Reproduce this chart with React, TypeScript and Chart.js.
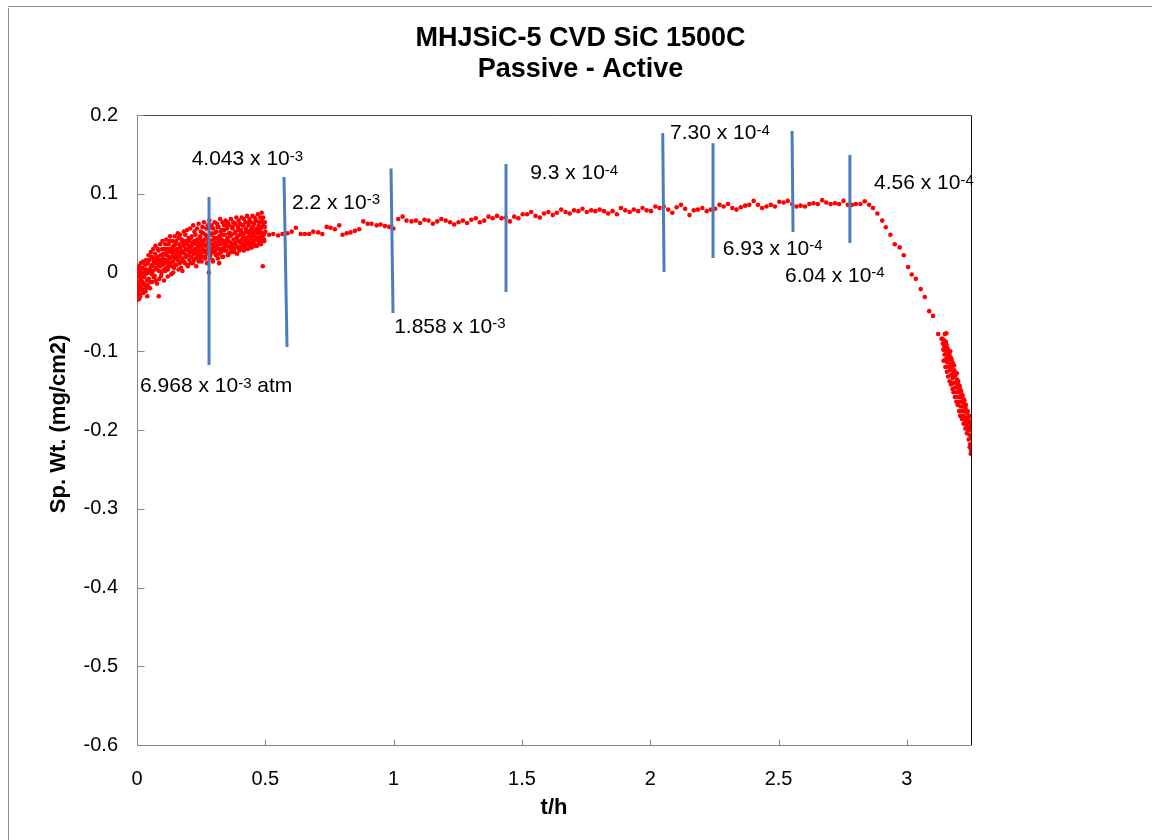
import React, { useEffect, useRef } from "react";
import { Chart, registerables } from "chart.js";

Chart.register(...registerables);

const TITLE_LINES = ["MHJSiC-5 CVD SiC 1500C", "Passive - Active"];
const X_TITLE = "t/h";
const Y_TITLE = "  Sp. Wt. (mg/cm2)";
const X_MIN = 0;
const X_MAX = 3.25;
const X_STEP = 0.5;
const Y_MIN = -0.6;
const Y_MAX = 0.2;
const Y_STEP = 0.1;

// Early, densely sampled passive region (t/h, mg/cm2)
const cloudPoints: [number, number][] = [
  [0.000, -0.012], [0.002, -0.028], [0.004, 0.004], [0.005, -0.020], [0.007, -0.005], [0.009, -0.033],
  [0.010, -0.015], [0.012, 0.002], [0.014, -0.022], [0.016, -0.008], [0.018, -0.018], [0.020, 0.006],
  [0.022, -0.012], [0.024, -0.026], [0.026, 0.000], [0.028, -0.006], [0.030, -0.016], [0.032, 0.010],
  [0.034, -0.002], [0.036, -0.020], [0.038, 0.004], [0.040, -0.010], [0.042, 0.012], [0.044, 0.000],
  [0.046, -0.008], [0.048, 0.016], [0.050, 0.004], [0.052, -0.012], [0.054, 0.008], [0.056, 0.020],
  [0.058, -0.002], [0.060, 0.010], [0.062, 0.002], [0.064, 0.018], [0.066, -0.006], [0.068, 0.012],
  [0.070, 0.024], [0.072, 0.006], [0.074, -0.010], [0.076, 0.014], [0.078, 0.004], [0.080, 0.020],
  [0.082, 0.010], [0.084, 0.028], [0.086, 0.002], [0.088, 0.016], [0.090, 0.008], [0.092, 0.022],
  [0.094, -0.004], [0.096, 0.014], [0.098, 0.030], [0.100, 0.010], [0.102, 0.018], [0.104, 0.004],
  [0.106, 0.024], [0.108, 0.012], [0.110, 0.036], [0.112, 0.016], [0.114, 0.006], [0.116, 0.022],
  [0.118, 0.014], [0.120, 0.030], [0.122, 0.008], [0.124, 0.020], [0.126, 0.040], [0.128, 0.018],
  [0.130, 0.012], [0.132, 0.026], [0.134, -0.002], [0.136, 0.020], [0.138, 0.032], [0.140, 0.014],
  [0.142, 0.024], [0.144, 0.006], [0.146, 0.028], [0.148, 0.018], [0.150, 0.036], [0.152, 0.022],
  [0.154, 0.010], [0.156, 0.030], [0.158, 0.016], [0.160, 0.026], [0.162, 0.044], [0.164, 0.020],
  [0.166, 0.012], [0.168, 0.032], [0.170, 0.024], [0.172, 0.006], [0.174, 0.028], [0.176, 0.040],
  [0.178, 0.018], [0.180, 0.026], [0.182, 0.034], [0.184, 0.014], [0.186, 0.024], [0.188, 0.048],
  [0.190, 0.030], [0.192, 0.020], [0.194, 0.036], [0.196, 0.010], [0.198, 0.028], [0.200, 0.022],
  [0.202, 0.040], [0.204, 0.016], [0.206, 0.032], [0.208, 0.026], [0.210, 0.044], [0.212, 0.020],
  [0.214, 0.034], [0.216, 0.028], [0.218, 0.012], [0.220, 0.038], [0.222, 0.024], [0.224, 0.052],
  [0.226, 0.030], [0.228, 0.018], [0.230, 0.036], [0.232, 0.026], [0.234, 0.042], [0.236, 0.022],
  [0.238, 0.032], [0.240, 0.014], [0.242, 0.038], [0.244, 0.028], [0.246, 0.046], [0.248, 0.024],
  [0.250, 0.034], [0.252, 0.040], [0.254, 0.020], [0.256, 0.030], [0.258, 0.050], [0.260, 0.036],
  [0.262, 0.026], [0.264, 0.042], [0.266, 0.018], [0.268, 0.034], [0.270, 0.028], [0.272, 0.046],
  [0.274, 0.024], [0.276, 0.038], [0.278, 0.030], [0.280, 0.056], [0.282, 0.034], [0.284, 0.020],
  [0.286, 0.040], [0.288, 0.030], [0.290, 0.048], [0.292, 0.026], [0.294, 0.036], [0.296, 0.014],
  [0.298, 0.042], [0.300, 0.032], [0.302, 0.050], [0.304, 0.028], [0.306, 0.038], [0.308, 0.022],
  [0.310, 0.044], [0.312, 0.034], [0.314, 0.058], [0.316, 0.030], [0.318, 0.040], [0.320, 0.024],
  [0.322, 0.046], [0.324, 0.036], [0.326, 0.052], [0.328, 0.030], [0.330, 0.042], [0.332, 0.020],
  [0.334, 0.038], [0.336, 0.048], [0.338, 0.032], [0.340, 0.054], [0.342, 0.028], [0.344, 0.040],
  [0.346, 0.036], [0.348, 0.060], [0.350, 0.034], [0.352, 0.044], [0.354, 0.022], [0.356, 0.040],
  [0.358, 0.050], [0.360, 0.032], [0.362, 0.046], [0.364, 0.038], [0.366, 0.026], [0.368, 0.048],
  [0.370, 0.036], [0.372, 0.056], [0.374, 0.032], [0.376, 0.042], [0.378, 0.028], [0.380, 0.050],
  [0.382, 0.038], [0.384, 0.062], [0.386, 0.034], [0.388, 0.044], [0.390, 0.024], [0.392, 0.046],
  [0.394, 0.040], [0.396, 0.054], [0.398, 0.032], [0.400, 0.048], [0.402, 0.038], [0.404, 0.030],
  [0.406, 0.052], [0.408, 0.042], [0.410, 0.060], [0.412, 0.036], [0.414, 0.046], [0.416, 0.028],
  [0.418, 0.050], [0.420, 0.040], [0.422, 0.034], [0.424, 0.056], [0.426, 0.044], [0.428, 0.038],
  [0.430, 0.052], [0.432, 0.030], [0.434, 0.046], [0.436, 0.064], [0.438, 0.040], [0.440, 0.050],
  [0.442, 0.036], [0.444, 0.054], [0.446, 0.044], [0.448, 0.032], [0.450, 0.048], [0.452, 0.058],
  [0.454, 0.040], [0.456, 0.052], [0.458, 0.036], [0.460, 0.046], [0.462, 0.066], [0.464, 0.042],
  [0.466, 0.054], [0.468, 0.034], [0.470, 0.050], [0.472, 0.044], [0.474, 0.060], [0.476, 0.038],
  [0.478, 0.052], [0.480, 0.046], [0.482, 0.056], [0.484, 0.040], [0.486, 0.076], [0.488, 0.050],
  [0.490, 0.044], [0.492, 0.062], [0.494, 0.048], [0.496, 0.040], [0.498, 0.058], [0.500, 0.052],
  [0.280, 0.000], [0.490, 0.008], [0.085, -0.030], [0.040, -0.030], [0.006, -0.034], [0.120, -0.005],
  [0.320, 0.012], [0.003, -0.024], [0.001, 0.002], [0.008, -0.010], [0.011, -0.028], [0.015, 0.000],
];

// Second pass over the same interval: the wider scatter of the raw signal
const cloudSpread: [number, number][] = [
  [0.003, -0.018], [0.006, 0.008], [0.009, -0.002], [0.012, -0.030], [0.015, 0.012], [0.018, -0.004],
  [0.021, -0.022], [0.024, 0.014], [0.027, -0.014], [0.030, 0.004], [0.033, -0.024], [0.036, 0.016],
  [0.039, 0.000], [0.042, -0.016], [0.045, 0.022], [0.048, 0.002], [0.051, -0.020], [0.054, 0.026],
  [0.057, 0.008], [0.060, -0.012], [0.063, 0.030], [0.066, 0.014], [0.069, -0.004], [0.072, 0.034],
  [0.075, 0.018], [0.078, -0.014], [0.081, 0.030], [0.084, 0.012], [0.087, -0.008], [0.090, 0.036],
  [0.093, 0.016], [0.096, 0.000], [0.099, 0.040], [0.102, 0.024], [0.105, -0.010], [0.108, 0.030],
  [0.111, 0.002], [0.114, 0.042], [0.117, 0.026], [0.120, 0.004], [0.123, 0.036], [0.126, 0.010],
  [0.129, 0.046], [0.132, 0.030], [0.135, 0.008], [0.138, 0.040], [0.141, 0.000], [0.144, 0.034],
  [0.147, 0.046], [0.150, 0.010], [0.153, 0.040], [0.156, 0.020], [0.159, 0.050], [0.162, 0.004],
  [0.165, 0.036], [0.168, 0.048], [0.171, 0.014], [0.174, 0.042], [0.177, 0.002], [0.180, 0.038],
  [0.183, 0.052], [0.186, 0.012], [0.189, 0.040], [0.192, 0.030], [0.195, 0.054], [0.198, 0.008],
  [0.201, 0.044], [0.204, 0.034], [0.207, 0.056], [0.210, 0.012], [0.213, 0.046], [0.216, 0.038],
  [0.219, 0.060], [0.222, 0.016], [0.225, 0.040], [0.228, 0.048], [0.231, 0.008], [0.234, 0.056],
  [0.237, 0.036], [0.240, 0.062], [0.243, 0.018], [0.246, 0.044], [0.249, 0.052], [0.252, 0.014],
  [0.255, 0.058], [0.258, 0.040], [0.261, 0.064], [0.264, 0.020], [0.267, 0.048], [0.270, 0.056],
  [0.273, 0.012], [0.276, 0.060], [0.279, 0.042], [0.282, 0.066], [0.285, 0.022], [0.288, 0.050],
  [0.291, 0.060], [0.294, 0.016], [0.297, 0.056], [0.300, 0.044], [0.303, 0.064], [0.306, 0.024],
  [0.309, 0.052], [0.312, 0.062], [0.315, 0.018], [0.318, 0.058], [0.321, 0.046], [0.324, 0.068],
  [0.327, 0.026], [0.330, 0.054], [0.333, 0.064], [0.336, 0.020], [0.339, 0.060], [0.342, 0.048],
  [0.345, 0.066], [0.348, 0.028], [0.351, 0.056], [0.354, 0.064], [0.357, 0.024], [0.360, 0.060],
  [0.363, 0.050], [0.366, 0.068], [0.369, 0.030], [0.372, 0.058], [0.375, 0.064], [0.378, 0.026],
  [0.381, 0.062], [0.384, 0.052], [0.387, 0.070], [0.390, 0.032], [0.393, 0.058], [0.396, 0.066],
  [0.399, 0.028], [0.402, 0.062], [0.405, 0.054], [0.408, 0.070], [0.411, 0.034], [0.414, 0.060],
  [0.417, 0.068], [0.420, 0.030], [0.423, 0.064], [0.426, 0.054], [0.429, 0.072], [0.432, 0.036],
  [0.435, 0.060], [0.438, 0.068], [0.441, 0.032], [0.444, 0.064], [0.447, 0.056], [0.450, 0.072],
  [0.453, 0.038], [0.456, 0.062], [0.459, 0.070], [0.462, 0.034], [0.465, 0.066], [0.468, 0.056],
  [0.471, 0.074], [0.474, 0.040], [0.477, 0.064], [0.480, 0.070], [0.483, 0.036], [0.486, 0.066],
  [0.489, 0.058], [0.492, 0.070], [0.495, 0.042], [0.498, 0.064],
];

// Sparser plateau region
const plateauPoints: [number, number][] = [
  [0.515, 0.048], [0.531, 0.049], [0.550, 0.047], [0.567, 0.049], [0.586, 0.050], [0.603, 0.052],
  [0.619, 0.057], [0.638, 0.049], [0.654, 0.049], [0.671, 0.049], [0.687, 0.052], [0.706, 0.051],
  [0.722, 0.049], [0.739, 0.058], [0.754, 0.057], [0.771, 0.055], [0.788, 0.060], [0.801, 0.048],
  [0.817, 0.050], [0.832, 0.051], [0.849, 0.053], [0.866, 0.055], [0.882, 0.065], [0.899, 0.062],
  [0.914, 0.062], [0.934, 0.060], [0.949, 0.061], [0.966, 0.059], [0.983, 0.058], [0.999, 0.056],
  [1.018, 0.068], [1.035, 0.071], [1.050, 0.066], [1.070, 0.065], [1.087, 0.066], [1.103, 0.063],
  [1.120, 0.067], [1.136, 0.066], [1.153, 0.062], [1.170, 0.065], [1.186, 0.068], [1.203, 0.066],
  [1.220, 0.064], [1.236, 0.061], [1.253, 0.064], [1.270, 0.066], [1.286, 0.063], [1.303, 0.067],
  [1.320, 0.069], [1.336, 0.064], [1.353, 0.066], [1.370, 0.071], [1.386, 0.069], [1.403, 0.072],
  [1.420, 0.069], [1.436, 0.070], [1.453, 0.065], [1.470, 0.071], [1.486, 0.069], [1.503, 0.074],
  [1.520, 0.074], [1.536, 0.077], [1.553, 0.072], [1.570, 0.070], [1.586, 0.075], [1.603, 0.077],
  [1.620, 0.073], [1.636, 0.076], [1.653, 0.080], [1.670, 0.077], [1.686, 0.075], [1.703, 0.079],
  [1.720, 0.078], [1.736, 0.081], [1.753, 0.077], [1.770, 0.079], [1.786, 0.078], [1.803, 0.080],
  [1.820, 0.078], [1.836, 0.075], [1.853, 0.078], [1.870, 0.074], [1.886, 0.082], [1.903, 0.079],
  [1.920, 0.077], [1.936, 0.080], [1.953, 0.078], [1.970, 0.082], [1.986, 0.079], [2.003, 0.078],
  [2.020, 0.084], [2.036, 0.082], [2.053, 0.084], [2.070, 0.080], [2.086, 0.076], [2.103, 0.083],
  [2.120, 0.086], [2.136, 0.081], [2.153, 0.073], [2.170, 0.079], [2.186, 0.080], [2.203, 0.082],
  [2.220, 0.078], [2.236, 0.080], [2.253, 0.081], [2.270, 0.086], [2.286, 0.084], [2.303, 0.087],
  [2.320, 0.082], [2.336, 0.080], [2.353, 0.083], [2.370, 0.085], [2.386, 0.086], [2.403, 0.091],
  [2.420, 0.086], [2.436, 0.082], [2.453, 0.084], [2.470, 0.086], [2.486, 0.084], [2.503, 0.090],
  [2.520, 0.089], [2.536, 0.091], [2.553, 0.087], [2.570, 0.084], [2.586, 0.085], [2.603, 0.084],
  [2.620, 0.087], [2.636, 0.088], [2.653, 0.087], [2.670, 0.092], [2.686, 0.089], [2.703, 0.087],
  [2.720, 0.088], [2.736, 0.087], [2.753, 0.091], [2.770, 0.086], [2.786, 0.086], [2.801, 0.087],
  [2.819, 0.087], [2.836, 0.0905], [2.853, 0.086],
];

// Active oxidation: weight loss
const declinePoints: [number, number][] = [
  [2.868, 0.082], [2.885, 0.075], [2.904, 0.066], [2.918, 0.0575], [2.936, 0.048], [2.953, 0.036],
  [2.972, 0.032], [2.988, 0.022], [3.005, 0.007], [3.019, -0.0025], [3.035, -0.008], [3.054, -0.021],
  [3.070, -0.031], [3.087, -0.049], [3.102, -0.055], [3.122, -0.078], [3.139, -0.084], [3.154, -0.077],
  [3.135, -0.084], [3.148, -0.078],
];

const tailPoints: [number, number][] = [
  [3.140, -0.090], [3.142, -0.098], [3.145, -0.086], [3.147, -0.104], [3.149, -0.094], [3.151, -0.110],
  [3.153, -0.100], [3.155, -0.092], [3.157, -0.114], [3.159, -0.106], [3.160, -0.098], [3.162, -0.120],
  [3.164, -0.110], [3.166, -0.104], [3.168, -0.124], [3.170, -0.116], [3.171, -0.108], [3.173, -0.130],
  [3.175, -0.120], [3.177, -0.114], [3.179, -0.134], [3.181, -0.126], [3.183, -0.140], [3.184, -0.118],
  [3.186, -0.132], [3.188, -0.146], [3.190, -0.128], [3.192, -0.140], [3.194, -0.152], [3.196, -0.136],
  [3.197, -0.146], [3.199, -0.158], [3.201, -0.142], [3.203, -0.152], [3.205, -0.164], [3.207, -0.148],
  [3.209, -0.158], [3.210, -0.170], [3.212, -0.154], [3.214, -0.164], [3.216, -0.176], [3.218, -0.160],
  [3.220, -0.170], [3.222, -0.182], [3.223, -0.166], [3.225, -0.176], [3.227, -0.188], [3.229, -0.172],
  [3.231, -0.184], [3.233, -0.194], [3.235, -0.178], [3.236, -0.190], [3.238, -0.200], [3.240, -0.186],
  [3.242, -0.196], [3.244, -0.206], [3.246, -0.190], [3.247, -0.218], [3.248, -0.200], [3.249, -0.230],
  [3.250, -0.210],
];

const tailSpread: [number, number][] = [
  [3.143, -0.112], [3.146, -0.094], [3.150, -0.120], [3.152, -0.088], [3.156, -0.126], [3.158, -0.096],
  [3.161, -0.132], [3.163, -0.102], [3.167, -0.138], [3.169, -0.100], [3.172, -0.142], [3.174, -0.110],
  [3.178, -0.148], [3.180, -0.116], [3.182, -0.152], [3.185, -0.124], [3.187, -0.158], [3.189, -0.130],
  [3.193, -0.164], [3.195, -0.128], [3.198, -0.168], [3.200, -0.138], [3.204, -0.176], [3.206, -0.144],
  [3.208, -0.182], [3.211, -0.150], [3.215, -0.186], [3.217, -0.156], [3.221, -0.192], [3.224, -0.162],
  [3.228, -0.198], [3.230, -0.168], [3.234, -0.204], [3.237, -0.176], [3.241, -0.212], [3.243, -0.182],
  [3.245, -0.222], [3.250, -0.194], [3.250, -0.226],
];

// Blue marker lines where the oxygen partial pressure changed: [t1, v1, t2, v2]
const markerLines: [number, number, number, number][] = [
  [0.2806, 0.0959, 0.2806, -0.1175],
  [0.5729, 0.1213, 0.5846, -0.0946],
  [0.9899, 0.1321, 0.9977, -0.0514],
  [1.438, 0.1378, 1.438, -0.0248],
  [2.0487, 0.1771, 2.0538, 0.0006],
  [2.2447, 0.1644, 2.2447, 0.0184],
  [2.5526, 0.1797, 2.5565, 0.0514],
  [2.778, 0.1492, 2.778, 0.0375],
];

// Pressure labels: mantissa text, exponent, suffix
const labelTexts: [string, string, string][] = [
  ["4.043 x 10", "-3", ""],
  ["2.2 x 10", "-3", ""],
  ["6.968 x 10", "-3", " atm"],
  ["1.858 x 10", "-3", ""],
  ["9.3 x 10", "-4", ""],
  ["7.30 x 10", "-4", ""],
  ["6.93 x 10", "-4", ""],
  ["6.04 x 10", "-4", ""],
  ["4.56 x 10", "-4", ""],
];
// Label anchors in data units (left edge, vertical middle)
const labelAnchors: [number, number][] = [
  [0.213, 0.146],
  [0.604, 0.0908],
  [0.012, -0.142],
  [1.002, -0.0667],
  [1.532, 0.128],
  [2.077, 0.179],
  [2.283, 0.0324],
  [2.525, -0.0019],
  [2.872, 0.1156],
];

const FONT = "'Liberation Sans', Arial, Helvetica, sans-serif";

const fmt = (v: number) => String(Number(v.toFixed(2)));

const decorPlugin = {
  id: "decor",
  beforeDatasetsDraw(chart: any) {
    const { ctx, chartArea: a, scales } = chart;
    ctx.save();
    const L = Math.round(a.left) + 0.5;
    const R = Math.round(a.right) + 0.5;
    const T = Math.round(a.top) + 0.5;
    const B = Math.round(a.bottom) + 0.5;
    ctx.lineWidth = 1;
    // plot box top and right
    ctx.strokeStyle = "#4a4a4a";
    ctx.beginPath();
    ctx.moveTo(L, T);
    ctx.lineTo(R, T);
    ctx.stroke();
    ctx.strokeStyle = "#111111";
    ctx.beginPath();
    ctx.moveTo(R, T);
    ctx.lineTo(R, B);
    ctx.stroke();
    // axes
    ctx.strokeStyle = "#868686";
    ctx.beginPath();
    ctx.moveTo(L, T);
    ctx.lineTo(L, B);
    ctx.lineTo(R, B);
    ctx.stroke();
    // inside tick marks
    ctx.beginPath();
    scales.y.ticks.forEach((t: any) => {
      const y = Math.round(scales.y.getPixelForValue(t.value)) + 0.5;
      ctx.moveTo(L, y);
      ctx.lineTo(L + 7, y);
    });
    scales.x.ticks.forEach((t: any) => {
      const x = Math.round(scales.x.getPixelForValue(t.value)) + 0.5;
      ctx.moveTo(x, B);
      ctx.lineTo(x, B - 6);
    });
    ctx.stroke();
    ctx.restore();
  },
  afterDatasetsDraw(chart: any) {
    const { ctx, scales } = chart;
    ctx.save();
    ctx.fillStyle = "#000000";
    ctx.textBaseline = "alphabetic";
    ctx.textAlign = "left";
    const mainSize = 21;
    const supSize = 15;
    labelTexts.forEach(([m, e, s], i) => {
      const [tx, ty] = labelAnchors[i];
      const x = scales.x.getPixelForValue(tx);
      const yc = scales.y.getPixelForValue(ty);
      const capMain = 0.716 * mainSize;
      const base = yc + capMain / 2;
      ctx.font = `${mainSize}px ${FONT}`;
      ctx.fillText(m, x, base);
      let cx = x + ctx.measureText(m).width;
      ctx.font = `${supSize}px ${FONT}`;
      const supBase = yc - capMain / 2 + 0.716 * supSize;
      ctx.fillText(e, cx, supBase);
      cx += ctx.measureText(e).width;
      if (s) {
        ctx.font = `${mainSize}px ${FONT}`;
        ctx.fillText(s, cx, base);
      }
    });
    ctx.restore();
  },
};

export default function App() {
  const canvasRef = useRef<HTMLCanvasElement | null>(null);

  useEffect(() => {
    if (!canvasRef.current) return;
    const toXY = (p: [number, number]) => ({ x: p[0], y: p[1] });
    const points = [
      ...cloudPoints,
      ...cloudSpread,
      ...plateauPoints,
      ...declinePoints,
      ...tailPoints,
      ...tailSpread,
    ].map(toXY);

    const lineSets = markerLines.map((l, i) => ({
      type: "line" as const,
      label: `marker ${i + 1}`,
      data: [
        { x: l[0], y: l[1] },
        { x: l[2], y: l[3] },
      ],
      borderColor: "#4a7ebb",
      backgroundColor: "#4a7ebb",
      borderWidth: 3,
      pointRadius: 0,
      showLine: true,
      order: 0,
    }));

    const chart = new Chart(canvasRef.current, {
      type: "scatter",
      data: {
        datasets: [
          ...lineSets,
          {
            label: "Sp. Wt.",
            data: points,
            backgroundColor: "#ff0000",
            borderColor: "#ff0000",
            borderWidth: 0,
            pointRadius: 2.3,
            order: 1,
          } as any,
        ],
      },
      options: {
        animation: false,
        responsive: false,
        devicePixelRatio: 1,
        layout: { padding: { left: 0, right: 0, top: 0, bottom: 0 } },
        plugins: {
          legend: { display: false },
          tooltip: { enabled: false },
          title: {
            display: true,
            text: TITLE_LINES,
            color: "#000000",
            font: { family: FONT, size: 27, weight: "bold", lineHeight: 1.15 },
            padding: { top: 17, bottom: 30 },
          },
        },
        scales: {
          x: {
            type: "linear",
            position: "bottom",
            min: X_MIN,
            max: X_MAX,
            grid: { display: false, drawTicks: false },
            border: { display: false },
            ticks: {
              stepSize: X_STEP,
              includeBounds: false,
              color: "#000000",
              font: { family: FONT, size: 20 },
              padding: 22,
              maxRotation: 0,
              callback: (v: any) => fmt(Number(v)),
            },
            title: {
              display: true,
              text: X_TITLE,
              color: "#000000",
              font: { family: FONT, size: 22, weight: "bold" },
              padding: { top: 0, bottom: 19 },
            },
            afterFit: (s: any) => {
              s.height = 95;
            },
          },
          y: {
            type: "linear",
            position: "left",
            min: Y_MIN,
            max: Y_MAX,
            grid: { display: false, drawTicks: false },
            border: { display: false },
            ticks: {
              stepSize: Y_STEP,
              color: "#000000",
              font: { family: FONT, size: 20 },
              padding: 19,
              callback: (v: any) => fmt(Number(v)),
            },
            title: {
              display: true,
              text: Y_TITLE,
              color: "#000000",
              font: { family: FONT, size: 22, weight: "bold" },
              padding: { top: 37, bottom: 0 },
            },
            afterFit: (s: any) => {
              s.width = 128;
            },
          },
          y2: {
            type: "linear",
            position: "right",
            min: 0,
            max: 1,
            display: true,
            grid: { display: false, drawTicks: false },
            border: { display: false },
            ticks: { display: false },
            afterFit: (s: any) => {
              s.width = 181;
            },
          },
        },
      } as any,
      plugins: [decorPlugin],
    });
    return () => chart.destroy();
  }, []);

  return (
    <div style={{ position: "relative" }}>
      <div
        style={{
          position: "fixed",
          top: 6,
          left: 8,
          right: 0,
          height: 1,
          background: "#8c8c8c",
          zIndex: 2,
        }}
      />
      <div
        style={{
          width: 1143,
          height: 834,
          marginTop: -2,
          position: "relative",
          borderLeft: "1px solid #8c8c8c",
        }}
      >
        <canvas ref={canvasRef} width={1143} height={834} style={{ display: "block", width: 1143, height: 834 }} />
      </div>
    </div>
  );
}
